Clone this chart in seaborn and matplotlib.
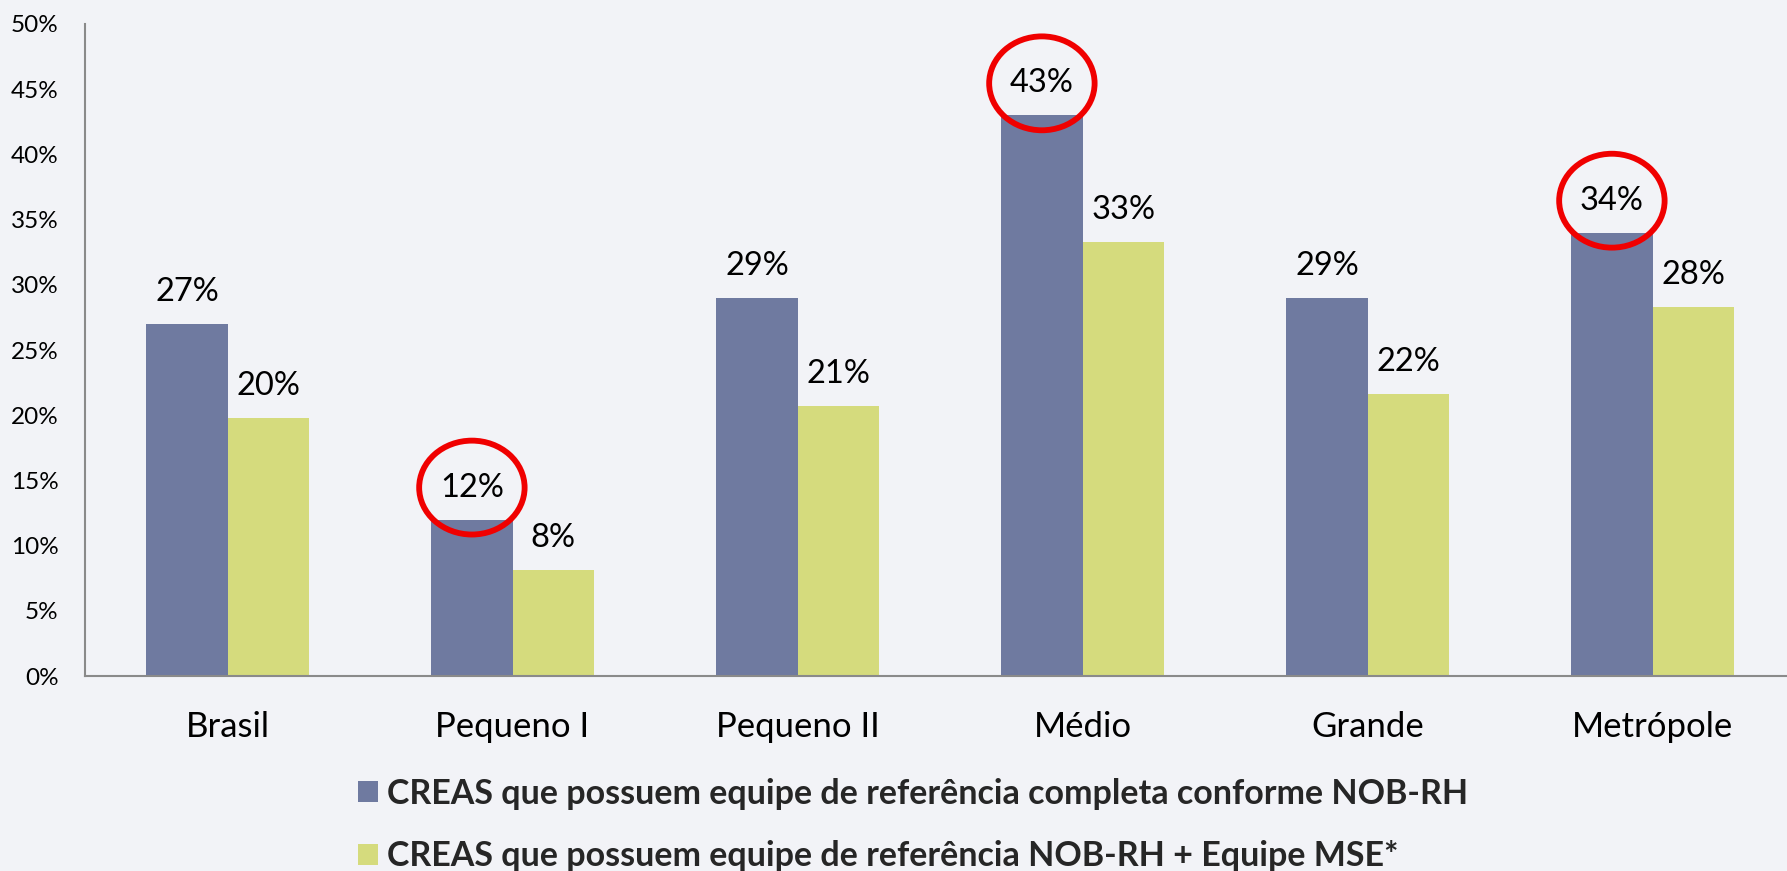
import matplotlib
matplotlib.use('Agg')
import matplotlib.pyplot as plt
import pandas as pd
import seaborn as sns
from matplotlib.patches import Ellipse

# Data
categorias = ['Brasil', 'Pequeno I', 'Pequeno II', 'Médio', 'Grande', 'Metrópole']
serie_nob = [27.0, 12.0, 29.0, 43.0, 29.0, 34.0]
serie_mse = [19.8, 8.1, 20.7, 33.3, 21.6, 28.3]
rotulos_nob = ['27%', '12%', '29%', '43%', '29%', '34%']
rotulos_mse = ['20%', '8%', '21%', '33%', '22%', '28%']
destaques = ['Pequeno I', 'Médio', 'Metrópole']  # circled in red
nomes = ['CREAS que possuem equipe de referência completa conforme NOB-RH',
         'CREAS que possuem equipe de referência NOB-RH + Equipe MSE*']
cores = ['#6F7AA0', '#D5DB7D']
yticks = [0, 5, 10, 15, 20, 25, 30, 35, 40, 45, 50]

df = pd.DataFrame({
    'categoria': categorias * 2,
    'valor': serie_nob + serie_mse,
    'serie': [nomes[0]] * len(categorias) + [nomes[1]] * len(categorias),
})

sns.set_style('white')
plt.rcParams['font.family'] = ['Lato', 'DejaVu Sans']

bg = '#F2F3F7'
fig = plt.figure(figsize=(17.87, 8.71), dpi=100, facecolor=bg)
ax = fig.add_axes([85 / 1787, 1 - 676 / 871, 1710 / 1787, 652 / 871])
ax.set_facecolor('none')

sns.barplot(data=df, x='categoria', y='valor', hue='serie', palette=cores,
            width=0.57, gap=0, saturation=1, linewidth=0, ax=ax, legend=True)

ax.set_xlim(-0.5, len(categorias) - 0.5)
ax.set_ylim(0, 50)
ax.set_yticks(yticks)
ax.set_yticklabels([f'{v}%' for v in yticks], fontsize=17.5)
ax.set_xlabel('')
ax.set_ylabel('')

# axes styling
for s in ['top', 'right']:
    ax.spines[s].set_visible(False)
for s in ['left', 'bottom']:
    ax.spines[s].set_color('#8A8A8A')
    ax.spines[s].set_linewidth(1.5)
ax.tick_params(axis='y', length=7, width=1.5, color='#8A8A8A', pad=12, labelcolor='black')
ax.set_xticks(range(len(categorias)))
ax.set_xticklabels(categorias, fontsize=25)
ax.tick_params(axis='x', length=0, pad=25, labelcolor='black')
ax.set_xticks([i - 0.5 for i in range(len(categorias) + 1)], minor=True)
ax.tick_params(axis='x', which='minor', length=7, width=1.5, color='#8A8A8A')

# value labels + highlight circles
for cont, rotulos, serie_idx in zip(ax.containers[:2], [rotulos_nob, rotulos_mse], [0, 1]):
    for bar, txt, cat in zip(cont.patches, rotulos, categorias):
        cx = bar.get_x() + bar.get_width() / 2
        h = bar.get_height()
        ax.annotate(txt, (cx, h), xytext=(0, 23), textcoords='offset points',
                    ha='center', va='center', fontsize=23.5, color='black')
        if serie_idx == 0 and cat in destaques:
            ax.add_patch(Ellipse((cx, h + 2.45), width=0.37, height=7.2,
                                 fill=False, edgecolor='#F00000', linewidth=4.2,
                                 zorder=5, clip_on=False))

# legend below the chart
handles, labels = ax.get_legend_handles_labels()
ax.get_legend().remove()
leg = fig.legend(handles, labels, loc='center left', bbox_to_anchor=(344 / 1787, 1 - 825 / 871),
                 frameon=False, ncol=1, prop={'weight': 'bold', 'size': 24.5},
                 handlelength=0.6, handleheight=0.6, handletextpad=0.25,
                 labelspacing=0.9, borderaxespad=0)

fig.savefig('out.png', dpi=100, facecolor=bg)
